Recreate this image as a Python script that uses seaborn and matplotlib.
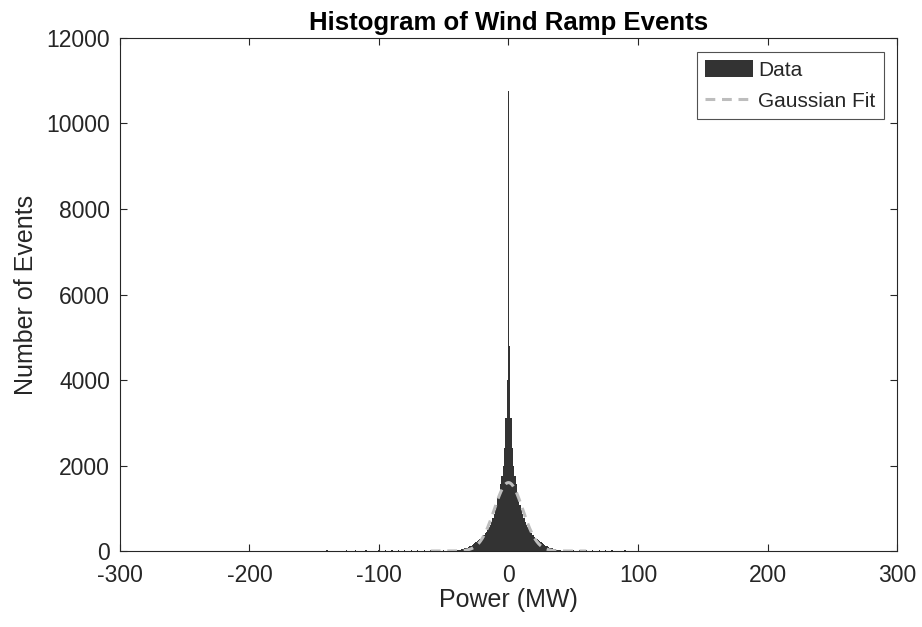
import numpy as np
import pandas as pd
import matplotlib
matplotlib.use("Agg")
import matplotlib.pyplot as plt
import seaborn as sns

# ---- data ----
# core histogram: 1 MW bins centred on -40 ... 40
core_centers = list(range(-40, 41))
core_counts = [
    20, 25, 30, 35, 42, 50, 60, 70, 80, 95,            # -40 .. -31
    110, 125, 140, 160, 180, 200, 225, 250, 275, 305,  # -30 .. -21
    335, 370, 410, 455, 500, 560, 620, 690, 770, 860,  # -20 .. -11
    960, 1080, 1230, 1380, 1560, 1760, 2000, 2400, 3100, 4000,  # -10 .. -1
    10750,                                               # 0
    4800, 3100, 2400, 2000, 1760, 1560, 1380, 1230, 1080, 960,  # 1 .. 10
    860, 770, 690, 620, 560, 500, 455, 410, 370, 335,  # 11 .. 20
    305, 275, 250, 225, 200, 180, 160, 140, 125, 110,  # 21 .. 30
    95, 80, 70, 60, 50, 42, 35, 30, 25, 20,            # 31 .. 40
]
# sparse tails
tail_centers = [-170, -160, -150, -140, -135, -125, -118, -110, -100, -95, -90,
                -85, -80, -75, -70, -65, -60, -55, -50, -45,
                45, 50, 55, 60, 65, 70, 75, 80, 90, 100, 110, 120, 130, 160]
tail_counts = [8, 10, 10, 12, 10, 14, 12, 15, 18, 16, 18,
               20, 22, 24, 26, 28, 30, 32, 30, 28,
               26, 24, 22, 20, 18, 16, 14, 12, 12, 10, 10, 8, 8, 8]

# Gaussian fit parameters
gauss_amp = 1600
gauss_mu = 0.0
gauss_sigma = 11.0

x_ticks = [-300, -200, -100, 0, 100, 200, 300]
y_ticks = [0, 2000, 4000, 6000, 8000, 10000, 12000]

# ---- figure ----
sns.set_theme(style="white")
plt.rcParams["font.family"] = ["Liberation Sans", "DejaVu Sans"]
plt.rcParams["axes.unicode_minus"] = False

fig = plt.figure(figsize=(9.22, 6.27), dpi=100)
ax = fig.add_axes([0.130, 0.1212, 0.843, 0.8182])

df = pd.DataFrame({
    "power": np.array(core_centers + tail_centers, dtype=float),
    "count": np.array(core_counts + tail_counts, dtype=float),
})
sns.histplot(data=df, x="power", weights="count", binwidth=1.0,
             binrange=(-300.5, 300.5), ax=ax,
             color="#333333", alpha=1.0, linewidth=0,
             label="Data")

xg = np.linspace(-60, 60, 1201)
yg = gauss_amp * np.exp(-0.5 * ((xg - gauss_mu) / gauss_sigma) ** 2)
sns.lineplot(x=xg, y=yg, ax=ax, color="#bdbdbd", linewidth=2.2,
             linestyle=(0, (3.2, 2.2)), label="Gaussian Fit")

ax.set_xlim(-300, 300)
ax.set_ylim(0, 12000)
ax.set_xticks(x_ticks)
ax.set_yticks(y_ticks)
ax.tick_params(direction="in", length=5, width=0.8, colors="#262626",
               labelsize=16.5, top=True, right=True, bottom=True, left=True,
               labelcolor="#262626")
ax.tick_params(axis="x", pad=9)
ax.tick_params(axis="y", pad=7)
for s in ax.spines.values():
    s.set_color("#262626")
    s.set_linewidth(0.8)

ax.set_title("Histogram of Wind Ramp Events", fontsize=18.5, fontweight="bold",
             pad=6, color="black")
ax.set_xlabel("Power (MW)", fontsize=18, color="#262626", labelpad=1)
ax.set_ylabel("Number of Events", fontsize=18, color="#262626", labelpad=6)

handles, labels = ax.get_legend_handles_labels()
order = [labels.index("Data"), labels.index("Gaussian Fit")]
leg = ax.legend([handles[i] for i in order], [labels[i] for i in order],
                loc="upper right", fontsize=15, frameon=True, fancybox=False,
                edgecolor="#262626", handlelength=2.3, handleheight=0.9,
                borderpad=0.4, labelspacing=0.55, handletextpad=0.25,
                borderaxespad=0.65)
leg.get_frame().set_linewidth(0.8)
for t in leg.get_texts():
    t.set_color("#262626")

fig.savefig("out.png", dpi=100)
